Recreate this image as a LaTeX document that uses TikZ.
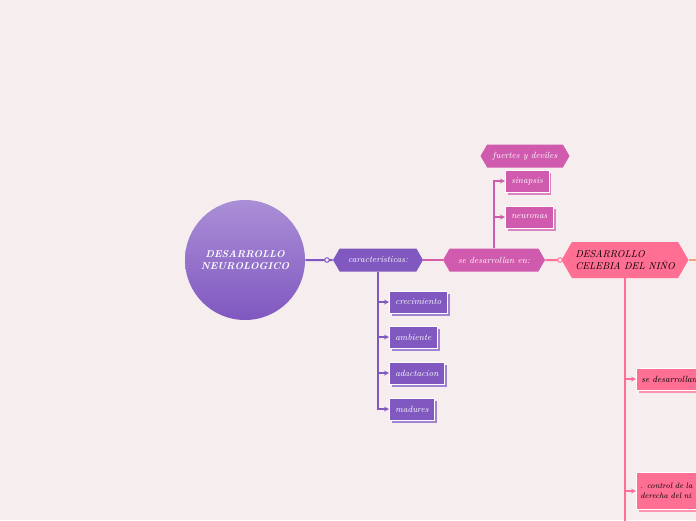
\documentclass[tikz,border=0pt]{standalone}
\usetikzlibrary{shapes.symbols,shadows}
\definecolor{fondo}{RGB}{246,238,238}
\definecolor{lila}{RGB}{128,88,192}
\definecolor{lilaclaro}{RGB}{170,142,214}
\definecolor{fucsia}{RGB}{208,90,174}
\definecolor{rosa}{RGB}{255,110,147}
\definecolor{naranja}{RGB}{250,160,120}
\begin{document}
\begin{tikzpicture}[x=1pt, y=-1pt, >=stealth, thick, font=\itshape\small,
  hexa/.style={shape=signal, signal to=east and west, signal pointer angle=120, minimum height=23pt, text=white},
  caja/.style={anchor=west, fill=#1, draw=white, line width=0.5pt, minimum height=22pt, inner xsep=6pt, text=white, copy shadow={shadow xshift=2.5pt, shadow yshift=-2.5pt, fill=#1!75, draw=none}},
  marca/.style={circle, draw, fill=fondo, inner sep=1.6pt, line width=1pt}]
\fill[fondo] (0,0) rectangle (696,520);
\clip (0,0) rectangle (696,520);
\node[circle, minimum size=120pt, top color=lilaclaro, bottom color=lila, text=white, font=\bfseries\itshape, align=center] (neuro) at (245,260) {DESARROLLO\\NEUROLOGICO};
\node[hexa, fill=lila, minimum width=90pt] (carac) at (378,260) {caracteristicas:};
\node[hexa, fill=fucsia, minimum width=102pt] (desa) at (494,260) {se desarrollan en:};
\node[hexa, fill=fucsia, minimum width=89pt] (fuertes) at (525,156) {fuertes y deviles};
\node[hexa, fill=rosa, text=black, minimum width=119pt, minimum height=36pt, align=left, font=\itshape] (celebia) at (625,260) {DESARROLLO\\CELEBIA DEL NIÑO};
% caracteristicas
\node[caja=lila] (crec) at (389,302) {crecimiento};
\node[caja=lila] (amb) at (389,337) {ambiente};
\node[caja=lila] (adac) at (389,373) {adactacion};
\node[caja=lila] (mad) at (389,409) {madures};
% se desarrollan en
\node[caja=fucsia] (sinap) at (505,181) {sinapsis};
\node[caja=fucsia] (neur) at (505,217) {neuronas};
% celebia
\node[caja=rosa, text=black, text width=80pt, align=left, inner xsep=5pt] (sedes) at (636,379) {se desarrollan};
\node[caja=rosa, text=black, text width=80pt, minimum height=37pt, align=left, inner xsep=4pt, font=\itshape\footnotesize] (control) at (636,491) {. control de la\\derecha del ni};
\coordinate (borde) at (700,260);
\coordinate (abajo) at (625,525);
\draw[lila, line width=2pt] (neuro) -- (carac);
\draw[fucsia!85!rosa, line width=2pt] (carac) -- (desa);
\draw[rosa, line width=2pt] (desa) -- (celebia);
\draw[naranja, line width=2pt] (celebia) -- (borde);
\node[marca, draw=lila] (m1) at (327,260) {};
\node[marca, draw=rosa] (m2) at (560,260) {};
\draw[lila, line width=1.2pt, ->] (carac.south) |- (crec.west);
\draw[lila, line width=1.2pt, ->] (carac.south) |- (amb.west);
\draw[lila, line width=1.2pt, ->] (carac.south) |- (adac.west);
\draw[lila, line width=1.2pt, ->] (carac.south) |- (mad.west);
\draw[fucsia, line width=1.2pt, ->] (desa.north) |- (sinap.west);
\draw[fucsia, line width=1.2pt, ->] (desa.north) |- (neur.west);
\draw[rosa, line width=1.2pt] (celebia.south) -- (abajo);
\draw[rosa, line width=1.2pt, ->] (celebia.south) |- (sedes.west);
\draw[rosa, line width=1.2pt, ->] (celebia.south) |- (control.west);
\end{tikzpicture}
\end{document}
